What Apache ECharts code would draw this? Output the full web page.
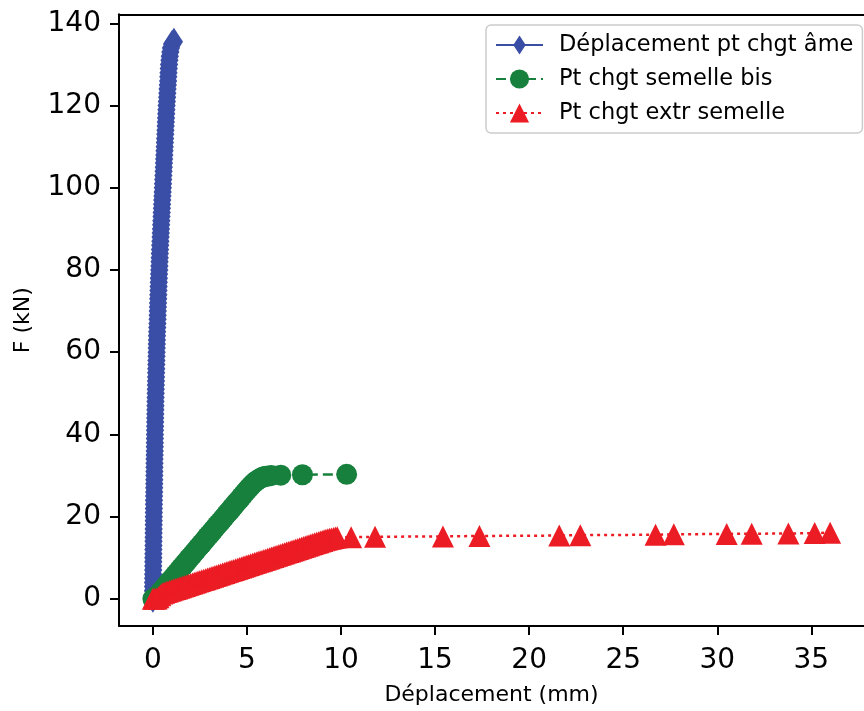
<!DOCTYPE html>
<html><head><meta charset="utf-8">
<script src="https://cdn.jsdelivr.net/npm/echarts@6/dist/echarts.min.js"></script>
<style>html,body{margin:0;padding:0;background:#fff}#c{width:864px;height:711px}</style>
</head><body><div id="c"></div>
<script>
const seriesNames = ['Déplacement pt chgt âme', 'Pt chgt semelle bis', 'Pt chgt extr semelle'];
const xTicks = [0, 5, 10, 15, 20, 25, 30, 35];
const yTicks = [0, 20, 40, 60, 80, 100, 120, 140];
const xAxisTitle = 'Déplacement (mm)';
const yAxisTitle = 'F (kN)';

// Series 1: Déplacement pt chgt âme  (F in kN, displacement in mm)
const ameY = [0, 1, 2, 3, 4, 5, 6, 7, 8, 9, 10, 11, 12, 13, 14, 15, 16, 17, 18, 19, 20,
  21, 22, 23, 24, 25, 26, 27, 28, 29, 30, 31, 32, 33, 34, 35, 36, 37, 38, 39, 40,
  41, 42, 43, 44, 45, 46, 47, 48, 49, 50, 51, 52, 53, 54, 55, 56, 57, 58, 59, 60,
  61, 62, 63, 64, 65, 66, 67, 68, 69, 70, 71, 72, 73, 74, 75, 76, 77, 78, 79, 80,
  81, 82, 83, 84, 85, 86, 87, 88, 89, 90, 91, 92, 93, 94, 95, 96, 97, 98, 99, 100,
  101, 102, 103, 104, 105, 106, 107, 108, 109, 110, 111, 112, 113, 114, 115, 116, 117, 118, 119, 120,
  121, 122, 123, 124, 125, 126, 127, 128, 129, 130, 131, 132, 133, 134, 135, 135.5];
const ameX = [0, 0.003, 0.005, 0.008, 0.01, 0.013, 0.015, 0.018, 0.02, 0.023, 0.025, 0.028, 0.03, 0.033, 0.035, 0.038, 0.04, 0.043, 0.045, 0.048, 0.05,
  0.053, 0.055, 0.058, 0.06, 0.065, 0.07, 0.072, 0.075, 0.078, 0.08, 0.083, 0.085, 0.088, 0.09, 0.095, 0.1, 0.103, 0.105, 0.108, 0.11,
  0.115, 0.12, 0.123, 0.125, 0.13, 0.135, 0.138, 0.14, 0.145, 0.15, 0.155, 0.16, 0.165, 0.17, 0.175, 0.18, 0.185, 0.19, 0.195, 0.2,
  0.205, 0.21, 0.215, 0.22, 0.228, 0.235, 0.243, 0.25, 0.255, 0.26, 0.268, 0.275, 0.283, 0.29, 0.298, 0.305, 0.313, 0.32, 0.33, 0.34,
  0.348, 0.355, 0.363, 0.37, 0.38, 0.39, 0.4, 0.41, 0.42, 0.43, 0.44, 0.45, 0.46, 0.47, 0.48, 0.49, 0.5, 0.51, 0.52, 0.53,
  0.54, 0.55, 0.56, 0.57, 0.58, 0.59, 0.6, 0.61, 0.62, 0.63, 0.64, 0.65, 0.66, 0.67, 0.68, 0.69, 0.7, 0.71, 0.72, 0.73,
  0.745, 0.76, 0.77, 0.78, 0.795, 0.81, 0.82, 0.83, 0.845, 0.86, 0.88, 0.9, 0.93, 0.96, 1.02, 1.12];

// Series 2: Pt chgt semelle bis
const semX = [0, 0.1, 0.2, 0.3, 0.4, 0.5, 0.6, 0.7, 0.8, 0.9, 1.0, 1.1, 1.2, 1.3, 1.4, 1.5, 1.6, 1.7, 1.8, 1.9, 2.0,
  2.1, 2.2, 2.3, 2.4, 2.5, 2.6, 2.7, 2.8, 2.9, 3.0, 3.1, 3.2, 3.3, 3.4, 3.5, 3.6, 3.7, 3.8, 3.9, 4.0,
  4.1, 4.2, 4.3, 4.4, 4.5, 4.6, 4.7, 4.8, 4.9, 5.0, 5.1, 5.2, 5.3, 5.4, 5.5, 5.6, 5.7, 5.8, 5.9, 6.0,
  6.15, 6.3, 6.8, 7.95, 10.3];
const semY = [0, 0.3, 0.6, 1.0, 1.6, 2.1, 2.6, 3.2, 3.7, 4.3, 4.8, 5.3, 5.9, 6.4, 7.0, 7.5, 8.0, 8.6, 9.1, 9.7, 10.2,
  10.7, 11.3, 11.8, 12.4, 12.9, 13.4, 14.0, 14.5, 15.1, 15.6, 16.1, 16.7, 17.2, 17.8, 18.3, 18.8, 19.4, 19.9, 20.5, 21.0,
  21.5, 22.1, 22.6, 23.2, 23.7, 24.2, 24.8, 25.3, 25.9, 26.4, 26.9, 27.4, 27.9, 28.3, 28.7, 29.0, 29.3, 29.5, 29.7, 29.8,
  29.9, 30.0, 30.1, 30.2, 30.3];

// Series 3: Pt chgt extr semelle
const extX = [0, 0.1, 0.2, 0.3, 0.4, 0.5, 0.6, 0.7, 0.8, 0.9, 1.0, 1.1, 1.2, 1.3, 1.4, 1.5, 1.6, 1.7, 1.8, 1.9, 2.0,
  2.1, 2.2, 2.3, 2.4, 2.5, 2.6, 2.7, 2.8, 2.9, 3.0, 3.1, 3.2, 3.3, 3.4, 3.5, 3.6, 3.7, 3.8, 3.9, 4.0,
  4.1, 4.2, 4.3, 4.4, 4.5, 4.6, 4.7, 4.8, 4.9, 5.0, 5.1, 5.2, 5.3, 5.4, 5.5, 5.6, 5.7, 5.8, 5.9, 6.0,
  6.1, 6.2, 6.3, 6.4, 6.5, 6.6, 6.7, 6.8, 6.9, 7.0, 7.1, 7.2, 7.3, 7.4, 7.5, 7.6, 7.7, 7.8, 7.9, 8.0,
  8.1, 8.2, 8.3, 8.4, 8.5, 8.6, 8.7, 8.8, 8.9, 9.0, 9.1, 9.2, 9.3, 9.4, 9.5, 9.6, 9.7, 9.8,
  10.54, 11.81, 15.42, 17.36, 21.60, 22.72, 26.72, 27.69, 30.50, 31.83, 33.78, 35.18, 36.0];
const extY = [0, 0.0, 0.1, 0.4, 0.9, 1.3, 1.5, 1.7, 1.8, 2.0, 2.1, 2.25, 2.4, 2.55, 2.7, 2.85, 3.0, 3.15, 3.3, 3.45, 3.6,
  3.75, 3.9, 4.05, 4.2, 4.35, 4.5, 4.65, 4.8, 4.95, 5.1, 5.25, 5.4, 5.55, 5.7, 5.85, 6.0, 6.15, 6.3, 6.45, 6.6,
  6.75, 6.9, 7.05, 7.2, 7.35, 7.5, 7.65, 7.8, 7.95, 8.1, 8.25, 8.4, 8.55, 8.7, 8.85, 9.0, 9.15, 9.3, 9.45, 9.6,
  9.75, 9.9, 10.05, 10.2, 10.35, 10.5, 10.65, 10.8, 10.95, 11.1, 11.25, 11.4, 11.55, 11.7, 11.85, 12.0, 12.15, 12.3, 12.45, 12.6,
  12.75, 12.9, 13.05, 13.2, 13.35, 13.5, 13.65, 13.8, 13.95, 14.1, 14.25, 14.4, 14.5, 14.6, 14.7, 14.8, 14.9, 15.0,
  15.0, 15.1, 15.2, 15.3, 15.4, 15.5, 15.6, 15.7, 15.8, 15.85, 15.9, 16.0, 16.1];

function pairs(xs, ys) { return xs.map((x, i) => [x, ys[i]]); }

const FONT = 'DejaVu Sans';
const thinDiamond = 'path://M0,0M20,20M10,0L16.5,10L10,20L3.5,10Z';

const chart = echarts.init(document.getElementById('c'), null, { renderer: 'canvas' });
chart.setOption({
  animation: false,
  backgroundColor: '#ffffff',
  grid: { left: 119, right: -11.4, top: 14.3, bottom: 83, containLabel: false },
  xAxis: [{
    type: 'value', min: -1.8, max: 37.8,
    name: xAxisTitle, nameLocation: 'middle', nameGap: 58,
    nameTextStyle: { fontFamily: FONT, fontSize: 22, color: '#000' },
    axisLine: { show: true, onZero: false, lineStyle: { color: '#000', width: 2 } },
    axisTick: { show: true, length: 9, lineStyle: { color: '#000', width: 2 }, customValues: xTicks },
    axisLabel: { fontFamily: FONT, fontSize: 28, color: '#000', margin: 21, customValues: xTicks },
    splitLine: { show: false }
  }, {
    type: 'value', position: 'top', min: -1.8, max: 37.8,
    axisLine: { show: true, onZero: false, lineStyle: { color: '#000', width: 2 } },
    axisTick: { show: false }, axisLabel: { show: false }, splitLine: { show: false }
  }],
  yAxis: [{
    type: 'value', min: -6.6, max: 142.2,
    name: yAxisTitle, nameLocation: 'middle', nameGap: 85, nameRotate: 90,
    nameTextStyle: { fontFamily: FONT, fontSize: 22, color: '#000' },
    axisLine: { show: true, onZero: false, lineStyle: { color: '#000', width: 2 } },
    axisTick: { show: true, length: 9, lineStyle: { color: '#000', width: 2 }, customValues: yTicks },
    axisLabel: { fontFamily: FONT, fontSize: 28, color: '#000', margin: 18, customValues: yTicks },
    splitLine: { show: false }
  }],
  legend: {
    orient: 'vertical', left: 486, top: 25,
    data: seriesNames,
    itemWidth: 47, itemHeight: 24, itemGap: 10,
    padding: [8, 9, 8, 9],
    borderColor: '#cccccc', borderWidth: 1.5, borderRadius: 5, backgroundColor: '#ffffff',
    textStyle: { fontFamily: FONT, fontSize: 22.5, color: '#000', lineHeight: 24, padding: [0, 0, 0, 11] }
  },
  series: [{
    name: seriesNames[0], type: 'line', data: pairs(ameX, ameY),
    symbol: thinDiamond, symbolSize: 28,
    itemStyle: { color: '#3a4ea6', borderWidth: 0 },
    lineStyle: { color: '#3a4ea6', width: 2, type: 'solid' },
    emphasis: { disabled: true }, z: 2
  }, {
    name: seriesNames[1], type: 'line', data: pairs(semX, semY),
    symbol: 'circle', symbolSize: 21,
    itemStyle: { color: '#17803d', borderWidth: 0 },
    lineStyle: { color: '#17803d', width: 2.5, type: [10, 5] },
    emphasis: { disabled: true }, z: 3
  }, {
    name: seriesNames[2], type: 'line', data: pairs(extX, extY),
    symbol: 'triangle', symbolSize: 22,
    itemStyle: { color: '#ec1c24', borderWidth: 0 },
    lineStyle: { color: '#ec1c24', width: 2.5, type: [3, 4] },
    emphasis: { disabled: true }, z: 4
  }]
});
</script>
</body></html>
